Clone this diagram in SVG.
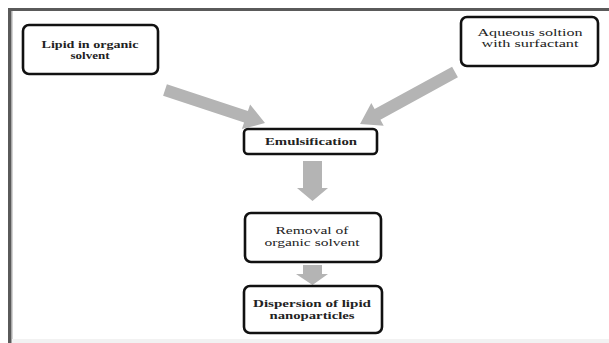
<svg xmlns="http://www.w3.org/2000/svg" width="609" height="343" viewBox="0 0 609 343">
<style>
.box{fill:#fff;stroke:#111;stroke-width:2.6}
.t{font-family:"Liberation Serif","Times New Roman",serif;font-size:10px;fill:#222;text-anchor:middle}
.b{font-weight:bold}
.arr{fill:#b4b4b4}
</style>
<rect x="0" y="0" width="609" height="343" fill="#fff"/>
<g id="frame">
<rect x="8" y="8" width="601" height="3" fill="#5a5a5a"/>
<rect x="8" y="8" width="3" height="335" fill="#5a5a5a"/>
<rect x="11" y="11" width="1.5" height="332" fill="#aaa"/>
<rect x="12" y="339" width="597" height="4" fill="#f2f2f2"/>
</g>
<g id="connectors">
<polygon class="arr" points="166.9,84.3 247.9,111 250.1,104.4 265,123 241.9,129.1 244.1,122.4 163.1,95.7"/>
<polygon class="arr" points="452.1,66.7 374.6,109.1 371.3,103 360,124 383.7,125.8 380.4,119.7 457.9,77.3"/>
<polygon class="arr" points="303,161 322,161 322,188 328,188 312.5,201 297,188 303,188"/>
<polygon class="arr" points="303,265 322,265 322,274 328,274 312.5,285 296,274 303,274"/>
</g>
<g id="lipid">
<rect class="box" x="23" y="25" width="135" height="49" rx="6"/>
<text class="t b" x="90" y="48" textLength="97" lengthAdjust="spacingAndGlyphs">Lipid in organic</text>
<text class="t b" x="90" y="59" textLength="39" lengthAdjust="spacingAndGlyphs">solvent</text>
</g>
<g id="aqueous">
<rect class="box" x="461" y="17" width="137" height="49" rx="6"/>
<text class="t" x="530" y="36" textLength="105" lengthAdjust="spacingAndGlyphs">Aqueous soltion</text>
<text class="t" x="530" y="47" textLength="97" lengthAdjust="spacingAndGlyphs">with surfactant</text>
</g>
<g id="emulsification">
<rect class="box" x="244" y="129" width="133" height="25" rx="4"/>
<text class="t b" x="311" y="145" textLength="92" lengthAdjust="spacingAndGlyphs">Emulsification</text>
</g>
<g id="removal">
<rect class="box" x="245" y="213" width="136" height="49" rx="6"/>
<text class="t" x="312" y="234" textLength="73" lengthAdjust="spacingAndGlyphs">Removal of</text>
<text class="t" x="312" y="246" textLength="95" lengthAdjust="spacingAndGlyphs">organic solvent</text>
</g>
<g id="dispersion">
<rect class="box" x="244" y="286" width="138" height="47" rx="6"/>
<text class="t b" x="312" y="307" textLength="118" lengthAdjust="spacingAndGlyphs">Dispersion of lipid</text>
<text class="t b" x="312" y="319" textLength="85" lengthAdjust="spacingAndGlyphs">nanoparticles</text>
</g>
</svg>
